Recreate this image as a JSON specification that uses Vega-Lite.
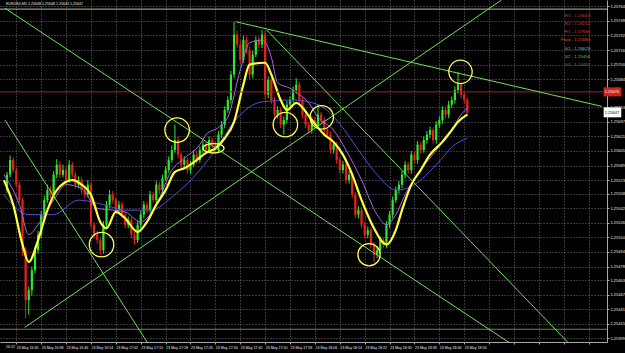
{
"$schema":"https://vega.github.io/schema/vega-lite/v6.json",
"width":607,"height":342,"autosize":"none","padding":{"left":0,"top":0,"right":18,"bottom":11},
"background":"#000000",
"config":{"view":{"stroke":null},"text":{"font":"Liberation Sans"},"axis":{"labelFont":"Liberation Sans"}},
"resolve":{"scale":{"color":"independent","size":"independent","shape":"independent"}},
"datasets":{
"candles":[
{"t":"2012-05-23 16:27","o":1.25562,"h":1.25582,"l":1.25559,"c":1.25579},
{"t":"2012-05-23 16:28","o":1.25579,"h":1.25600,"l":1.25576,"c":1.25595},
{"t":"2012-05-23 16:29","o":1.25595,"h":1.25598,"l":1.25581,"c":1.25584},
{"t":"2012-05-23 16:30","o":1.25584,"h":1.25587,"l":1.25565,"c":1.25568},
{"t":"2012-05-23 16:31","o":1.25568,"h":1.25571,"l":1.25548,"c":1.25551},
{"t":"2012-05-23 16:32","o":1.25551,"h":1.25554,"l":1.25490,"c":1.25496},
{"t":"2012-05-23 16:33","o":1.25496,"h":1.25499,"l":1.25421,"c":1.25441},
{"t":"2012-05-23 16:34","o":1.25441,"h":1.25456,"l":1.25425,"c":1.25452},
{"t":"2012-05-23 16:35","o":1.25452,"h":1.25478,"l":1.25446,"c":1.25474},
{"t":"2012-05-23 16:36","o":1.25474,"h":1.25500,"l":1.25470,"c":1.25496},
{"t":"2012-05-23 16:37","o":1.25496,"h":1.25517,"l":1.25492,"c":1.25513},
{"t":"2012-05-23 16:38","o":1.25513,"h":1.25539,"l":1.25509,"c":1.25535},
{"t":"2012-05-23 16:39","o":1.25535,"h":1.25556,"l":1.25530,"c":1.25551},
{"t":"2012-05-23 16:40","o":1.25551,"h":1.25568,"l":1.25548,"c":1.25562},
{"t":"2012-05-23 16:41","o":1.25562,"h":1.25566,"l":1.25553,"c":1.25557},
{"t":"2012-05-23 16:42","o":1.25557,"h":1.25583,"l":1.25554,"c":1.25579},
{"t":"2012-05-23 16:43","o":1.25579,"h":1.25596,"l":1.25575,"c":1.25590},
{"t":"2012-05-23 16:44","o":1.25590,"h":1.25594,"l":1.25575,"c":1.25579},
{"t":"2012-05-23 16:45","o":1.25579,"h":1.25590,"l":1.25576,"c":1.25584},
{"t":"2012-05-23 16:46","o":1.25584,"h":1.25588,"l":1.25569,"c":1.25573},
{"t":"2012-05-23 16:47","o":1.25573,"h":1.25595,"l":1.25570,"c":1.25590},
{"t":"2012-05-23 16:48","o":1.25590,"h":1.25593,"l":1.25576,"c":1.25579},
{"t":"2012-05-23 16:49","o":1.25579,"h":1.25582,"l":1.25564,"c":1.25568},
{"t":"2012-05-23 16:50","o":1.25568,"h":1.25577,"l":1.25564,"c":1.25573},
{"t":"2012-05-23 16:51","o":1.25573,"h":1.25576,"l":1.25558,"c":1.25562},
{"t":"2012-05-23 16:52","o":1.25562,"h":1.25566,"l":1.25553,"c":1.25557},
{"t":"2012-05-23 16:53","o":1.25557,"h":1.25573,"l":1.25554,"c":1.25568},
{"t":"2012-05-23 16:54","o":1.25568,"h":1.25571,"l":1.25520,"c":1.25524},
{"t":"2012-05-23 16:55","o":1.25524,"h":1.25527,"l":1.25509,"c":1.25513},
{"t":"2012-05-23 16:56","o":1.25513,"h":1.25517,"l":1.25503,"c":1.25507},
{"t":"2012-05-23 16:57","o":1.25507,"h":1.25510,"l":1.25491,"c":1.25496},
{"t":"2012-05-23 16:58","o":1.25496,"h":1.25528,"l":1.25492,"c":1.25524},
{"t":"2012-05-23 16:59","o":1.25524,"h":1.25550,"l":1.25520,"c":1.25546},
{"t":"2012-05-23 17:00","o":1.25546,"h":1.25562,"l":1.25542,"c":1.25557},
{"t":"2012-05-23 17:01","o":1.25557,"h":1.25561,"l":1.25547,"c":1.25551},
{"t":"2012-05-23 17:02","o":1.25551,"h":1.25554,"l":1.25536,"c":1.25540},
{"t":"2012-05-23 17:03","o":1.25540,"h":1.25550,"l":1.25536,"c":1.25546},
{"t":"2012-05-23 17:04","o":1.25546,"h":1.25549,"l":1.25531,"c":1.25535},
{"t":"2012-05-23 17:05","o":1.25535,"h":1.25538,"l":1.25520,"c":1.25524},
{"t":"2012-05-23 17:06","o":1.25524,"h":1.25533,"l":1.25520,"c":1.25529},
{"t":"2012-05-23 17:07","o":1.25529,"h":1.25532,"l":1.25509,"c":1.25513},
{"t":"2012-05-23 17:08","o":1.25513,"h":1.25516,"l":1.25502,"c":1.25507},
{"t":"2012-05-23 17:09","o":1.25507,"h":1.25528,"l":1.25504,"c":1.25524},
{"t":"2012-05-23 17:10","o":1.25524,"h":1.25539,"l":1.25520,"c":1.25535},
{"t":"2012-05-23 17:11","o":1.25535,"h":1.25550,"l":1.25531,"c":1.25546},
{"t":"2012-05-23 17:12","o":1.25546,"h":1.25549,"l":1.25536,"c":1.25540},
{"t":"2012-05-23 17:13","o":1.25540,"h":1.25561,"l":1.25537,"c":1.25557},
{"t":"2012-05-23 17:14","o":1.25557,"h":1.25560,"l":1.25548,"c":1.25551},
{"t":"2012-05-23 17:15","o":1.25551,"h":1.25572,"l":1.25548,"c":1.25568},
{"t":"2012-05-23 17:16","o":1.25568,"h":1.25571,"l":1.25558,"c":1.25562},
{"t":"2012-05-23 17:17","o":1.25562,"h":1.25579,"l":1.25559,"c":1.25575},
{"t":"2012-05-23 17:18","o":1.25575,"h":1.25588,"l":1.25572,"c":1.25584},
{"t":"2012-05-23 17:19","o":1.25584,"h":1.25599,"l":1.25581,"c":1.25595},
{"t":"2012-05-23 17:20","o":1.25595,"h":1.25611,"l":1.25592,"c":1.25606},
{"t":"2012-05-23 17:21","o":1.25606,"h":1.25634,"l":1.25603,"c":1.25617},
{"t":"2012-05-23 17:22","o":1.25617,"h":1.25621,"l":1.25597,"c":1.25601},
{"t":"2012-05-23 17:23","o":1.25601,"h":1.25604,"l":1.25586,"c":1.25590},
{"t":"2012-05-23 17:24","o":1.25590,"h":1.25599,"l":1.25586,"c":1.25595},
{"t":"2012-05-23 17:25","o":1.25595,"h":1.25598,"l":1.25580,"c":1.25584},
{"t":"2012-05-23 17:26","o":1.25584,"h":1.25594,"l":1.25580,"c":1.25590},
{"t":"2012-05-23 17:27","o":1.25590,"h":1.25606,"l":1.25587,"c":1.25601},
{"t":"2012-05-23 17:28","o":1.25601,"h":1.25605,"l":1.25591,"c":1.25595},
{"t":"2012-05-23 17:29","o":1.25595,"h":1.25610,"l":1.25592,"c":1.25606},
{"t":"2012-05-23 17:30","o":1.25606,"h":1.25616,"l":1.25602,"c":1.25612},
{"t":"2012-05-23 17:31","o":1.25612,"h":1.25615,"l":1.25602,"c":1.25606},
{"t":"2012-05-23 17:32","o":1.25606,"h":1.25621,"l":1.25603,"c":1.25617},
{"t":"2012-05-23 17:33","o":1.25617,"h":1.25620,"l":1.25608,"c":1.25612},
{"t":"2012-05-23 17:34","o":1.25612,"h":1.25615,"l":1.25602,"c":1.25606},
{"t":"2012-05-23 17:35","o":1.25606,"h":1.25627,"l":1.25603,"c":1.25623},
{"t":"2012-05-23 17:36","o":1.25623,"h":1.25638,"l":1.25619,"c":1.25634},
{"t":"2012-05-23 17:37","o":1.25634,"h":1.25654,"l":1.25630,"c":1.25650},
{"t":"2012-05-23 17:38","o":1.25650,"h":1.25665,"l":1.25647,"c":1.25661},
{"t":"2012-05-23 17:39","o":1.25661,"h":1.25693,"l":1.25657,"c":1.25689},
{"t":"2012-05-23 17:40","o":1.25689,"h":1.25747,"l":1.25685,"c":1.25733},
{"t":"2012-05-23 17:41","o":1.25733,"h":1.25737,"l":1.25718,"c":1.25722},
{"t":"2012-05-23 17:42","o":1.25722,"h":1.25726,"l":1.25701,"c":1.25705},
{"t":"2012-05-23 17:43","o":1.25705,"h":1.25732,"l":1.25702,"c":1.25727},
{"t":"2012-05-23 17:44","o":1.25727,"h":1.25731,"l":1.25712,"c":1.25716},
{"t":"2012-05-23 17:45","o":1.25716,"h":1.25720,"l":1.25684,"c":1.25689},
{"t":"2012-05-23 17:46","o":1.25689,"h":1.25715,"l":1.25685,"c":1.25711},
{"t":"2012-05-23 17:47","o":1.25711,"h":1.25731,"l":1.25708,"c":1.25727},
{"t":"2012-05-23 17:48","o":1.25727,"h":1.25731,"l":1.25718,"c":1.25722},
{"t":"2012-05-23 17:49","o":1.25722,"h":1.25738,"l":1.25718,"c":1.25733},
{"t":"2012-05-23 17:50","o":1.25733,"h":1.25737,"l":1.25662,"c":1.25667},
{"t":"2012-05-23 17:51","o":1.25667,"h":1.25687,"l":1.25663,"c":1.25683},
{"t":"2012-05-23 17:52","o":1.25683,"h":1.25686,"l":1.25657,"c":1.25661},
{"t":"2012-05-23 17:53","o":1.25661,"h":1.25664,"l":1.25641,"c":1.25645},
{"t":"2012-05-23 17:54","o":1.25645,"h":1.25654,"l":1.25641,"c":1.25650},
{"t":"2012-05-23 17:55","o":1.25650,"h":1.25653,"l":1.25630,"c":1.25634},
{"t":"2012-05-23 17:56","o":1.25634,"h":1.25643,"l":1.25623,"c":1.25639},
{"t":"2012-05-23 17:57","o":1.25639,"h":1.25660,"l":1.25635,"c":1.25656},
{"t":"2012-05-23 17:58","o":1.25656,"h":1.25665,"l":1.25652,"c":1.25661},
{"t":"2012-05-23 17:59","o":1.25661,"h":1.25676,"l":1.25658,"c":1.25672},
{"t":"2012-05-23 18:00","o":1.25672,"h":1.25685,"l":1.25668,"c":1.25678},
{"t":"2012-05-23 18:01","o":1.25678,"h":1.25681,"l":1.25657,"c":1.25661},
{"t":"2012-05-23 18:02","o":1.25661,"h":1.25664,"l":1.25641,"c":1.25645},
{"t":"2012-05-23 18:03","o":1.25645,"h":1.25648,"l":1.25630,"c":1.25634},
{"t":"2012-05-23 18:04","o":1.25634,"h":1.25637,"l":1.25624,"c":1.25628},
{"t":"2012-05-23 18:05","o":1.25628,"h":1.25643,"l":1.25624,"c":1.25639},
{"t":"2012-05-23 18:06","o":1.25639,"h":1.25643,"l":1.25630,"c":1.25634},
{"t":"2012-05-23 18:07","o":1.25634,"h":1.25656,"l":1.25630,"c":1.25645},
{"t":"2012-05-23 18:08","o":1.25645,"h":1.25648,"l":1.25635,"c":1.25639},
{"t":"2012-05-23 18:09","o":1.25639,"h":1.25642,"l":1.25624,"c":1.25628},
{"t":"2012-05-23 18:10","o":1.25628,"h":1.25631,"l":1.25619,"c":1.25623},
{"t":"2012-05-23 18:11","o":1.25623,"h":1.25626,"l":1.25602,"c":1.25606},
{"t":"2012-05-23 18:12","o":1.25606,"h":1.25616,"l":1.25602,"c":1.25612},
{"t":"2012-05-23 18:13","o":1.25612,"h":1.25615,"l":1.25591,"c":1.25595},
{"t":"2012-05-23 18:14","o":1.25595,"h":1.25598,"l":1.25580,"c":1.25584},
{"t":"2012-05-23 18:15","o":1.25584,"h":1.25594,"l":1.25580,"c":1.25590},
{"t":"2012-05-23 18:16","o":1.25590,"h":1.25593,"l":1.25569,"c":1.25573},
{"t":"2012-05-23 18:17","o":1.25573,"h":1.25583,"l":1.25569,"c":1.25579},
{"t":"2012-05-23 18:18","o":1.25579,"h":1.25582,"l":1.25553,"c":1.25557},
{"t":"2012-05-23 18:19","o":1.25557,"h":1.25560,"l":1.25531,"c":1.25535},
{"t":"2012-05-23 18:20","o":1.25535,"h":1.25544,"l":1.25531,"c":1.25540},
{"t":"2012-05-23 18:21","o":1.25540,"h":1.25543,"l":1.25520,"c":1.25524},
{"t":"2012-05-23 18:22","o":1.25524,"h":1.25527,"l":1.25509,"c":1.25513},
{"t":"2012-05-23 18:23","o":1.25513,"h":1.25522,"l":1.25509,"c":1.25518},
{"t":"2012-05-23 18:24","o":1.25518,"h":1.25521,"l":1.25498,"c":1.25502},
{"t":"2012-05-23 18:25","o":1.25502,"h":1.25505,"l":1.25483,"c":1.25491},
{"t":"2012-05-23 18:26","o":1.25491,"h":1.25500,"l":1.25487,"c":1.25496},
{"t":"2012-05-23 18:27","o":1.25496,"h":1.25511,"l":1.25492,"c":1.25507},
{"t":"2012-05-23 18:28","o":1.25507,"h":1.25510,"l":1.25498,"c":1.25502},
{"t":"2012-05-23 18:29","o":1.25502,"h":1.25528,"l":1.25498,"c":1.25524},
{"t":"2012-05-23 18:30","o":1.25524,"h":1.25539,"l":1.25520,"c":1.25535},
{"t":"2012-05-23 18:31","o":1.25535,"h":1.25555,"l":1.25531,"c":1.25551},
{"t":"2012-05-23 18:32","o":1.25551,"h":1.25566,"l":1.25548,"c":1.25562},
{"t":"2012-05-23 18:33","o":1.25562,"h":1.25572,"l":1.25558,"c":1.25568},
{"t":"2012-05-23 18:34","o":1.25568,"h":1.25583,"l":1.25564,"c":1.25579},
{"t":"2012-05-23 18:35","o":1.25579,"h":1.25594,"l":1.25575,"c":1.25590},
{"t":"2012-05-23 18:36","o":1.25590,"h":1.25593,"l":1.25580,"c":1.25584},
{"t":"2012-05-23 18:37","o":1.25584,"h":1.25605,"l":1.25580,"c":1.25601},
{"t":"2012-05-23 18:38","o":1.25601,"h":1.25604,"l":1.25591,"c":1.25595},
{"t":"2012-05-23 18:39","o":1.25595,"h":1.25616,"l":1.25591,"c":1.25612},
{"t":"2012-05-23 18:40","o":1.25612,"h":1.25615,"l":1.25602,"c":1.25606},
{"t":"2012-05-23 18:41","o":1.25606,"h":1.25621,"l":1.25603,"c":1.25617},
{"t":"2012-05-23 18:42","o":1.25617,"h":1.25627,"l":1.25613,"c":1.25623},
{"t":"2012-05-23 18:43","o":1.25623,"h":1.25632,"l":1.25619,"c":1.25628},
{"t":"2012-05-23 18:44","o":1.25628,"h":1.25631,"l":1.25613,"c":1.25617},
{"t":"2012-05-23 18:45","o":1.25617,"h":1.25638,"l":1.25613,"c":1.25634},
{"t":"2012-05-23 18:46","o":1.25634,"h":1.25643,"l":1.25630,"c":1.25639},
{"t":"2012-05-23 18:47","o":1.25639,"h":1.25654,"l":1.25635,"c":1.25650},
{"t":"2012-05-23 18:48","o":1.25650,"h":1.25653,"l":1.25641,"c":1.25645},
{"t":"2012-05-23 18:49","o":1.25645,"h":1.25660,"l":1.25641,"c":1.25656},
{"t":"2012-05-23 18:50","o":1.25656,"h":1.25665,"l":1.25652,"c":1.25661},
{"t":"2012-05-23 18:51","o":1.25661,"h":1.25676,"l":1.25657,"c":1.25672},
{"t":"2012-05-23 18:52","o":1.25672,"h":1.25692,"l":1.25668,"c":1.25678},
{"t":"2012-05-23 18:53","o":1.25678,"h":1.25681,"l":1.25663,"c":1.25667},
{"t":"2012-05-23 18:54","o":1.25667,"h":1.25670,"l":1.25657,"c":1.25661},
{"t":"2012-05-23 18:55","o":1.25661,"h":1.25664,"l":1.25644,"c":1.25647}
],
"ma":[
{"s":"yellow","t":"2012-05-23 16:26","p":1.25573},{"s":"yellow","t":"2012-05-23 16:29","p":1.25546},{"s":"yellow","t":"2012-05-23 16:32","p":1.25502},{"s":"yellow","t":"2012-05-23 16:34","p":1.25483},{"s":"yellow","t":"2012-05-23 16:37","p":1.25507},{"s":"yellow","t":"2012-05-23 16:40","p":1.25540},{"s":"yellow","t":"2012-05-23 16:43","p":1.25562},{"s":"yellow","t":"2012-05-23 16:48","p":1.25573},{"s":"yellow","t":"2012-05-23 16:51","p":1.25568},{"s":"yellow","t":"2012-05-23 16:54","p":1.25557},{"s":"yellow","t":"2012-05-23 16:57","p":1.25527},{"s":"yellow","t":"2012-05-23 16:59","p":1.25520},{"s":"yellow","t":"2012-05-23 17:02","p":1.25538},{"s":"yellow","t":"2012-05-23 17:05","p":1.25531},{"s":"yellow","t":"2012-05-23 17:09","p":1.25516},{"s":"yellow","t":"2012-05-23 17:12","p":1.25527},{"s":"yellow","t":"2012-05-23 17:15","p":1.25546},{"s":"yellow","t":"2012-05-23 17:18","p":1.25562},{"s":"yellow","t":"2012-05-23 17:21","p":1.25582},{"s":"yellow","t":"2012-05-23 17:24","p":1.25586},{"s":"yellow","t":"2012-05-23 17:28","p":1.25595},{"s":"yellow","t":"2012-05-23 17:31","p":1.25603},{"s":"yellow","t":"2012-05-23 17:34","p":1.25608},{"s":"yellow","t":"2012-05-23 17:37","p":1.25619},{"s":"yellow","t":"2012-05-23 17:40","p":1.25637},{"s":"yellow","t":"2012-05-23 17:43","p":1.25678},{"s":"yellow","t":"2012-05-23 17:45","p":1.25700},{"s":"yellow","t":"2012-05-23 17:50","p":1.25702},{"s":"yellow","t":"2012-05-23 17:52","p":1.25689},{"s":"yellow","t":"2012-05-23 17:55","p":1.25661},{"s":"yellow","t":"2012-05-23 17:57","p":1.25650},{"s":"yellow","t":"2012-05-23 18:00","p":1.25658},{"s":"yellow","t":"2012-05-23 18:05","p":1.25639},{"s":"yellow","t":"2012-05-23 18:09","p":1.25623},{"s":"yellow","t":"2012-05-23 18:12","p":1.25615},{"s":"yellow","t":"2012-05-23 18:15","p":1.25601},{"s":"yellow","t":"2012-05-23 18:18","p":1.25579},{"s":"yellow","t":"2012-05-23 18:21","p":1.25551},{"s":"yellow","t":"2012-05-23 18:25","p":1.25520},{"s":"yellow","t":"2012-05-23 18:28","p":1.25504},{"s":"yellow","t":"2012-05-23 18:29","p":1.25502},{"s":"yellow","t":"2012-05-23 18:32","p":1.25518},{"s":"yellow","t":"2012-05-23 18:34","p":1.25540},{"s":"yellow","t":"2012-05-23 18:37","p":1.25568},{"s":"yellow","t":"2012-05-23 18:40","p":1.25584},{"s":"yellow","t":"2012-05-23 18:43","p":1.25601},{"s":"yellow","t":"2012-05-23 18:47","p":1.25615},{"s":"yellow","t":"2012-05-23 18:50","p":1.25628},{"s":"yellow","t":"2012-05-23 18:52","p":1.25637},{"s":"yellow","t":"2012-05-23 18:55","p":1.25645},
{"s":"violet","t":"2012-05-23 16:26","p":1.25579},{"s":"violet","t":"2012-05-23 16:31","p":1.25546},{"s":"violet","t":"2012-05-23 16:34","p":1.25513},{"s":"violet","t":"2012-05-23 16:37","p":1.25524},{"s":"violet","t":"2012-05-23 16:42","p":1.25551},{"s":"violet","t":"2012-05-23 16:46","p":1.25568},{"s":"violet","t":"2012-05-23 16:51","p":1.25564},{"s":"violet","t":"2012-05-23 16:56","p":1.25542},{"s":"violet","t":"2012-05-23 17:01","p":1.25540},{"s":"violet","t":"2012-05-23 17:05","p":1.25538},{"s":"violet","t":"2012-05-23 17:10","p":1.25527},{"s":"violet","t":"2012-05-23 17:15","p":1.25546},{"s":"violet","t":"2012-05-23 17:20","p":1.25584},{"s":"violet","t":"2012-05-23 17:24","p":1.25597},{"s":"violet","t":"2012-05-23 17:29","p":1.25612},{"s":"violet","t":"2012-05-23 17:31","p":1.25623},{"s":"violet","t":"2012-05-23 17:35","p":1.25631},{"s":"violet","t":"2012-05-23 17:38","p":1.25642},{"s":"violet","t":"2012-05-23 17:42","p":1.25694},{"s":"violet","t":"2012-05-23 17:45","p":1.25724},{"s":"violet","t":"2012-05-23 17:49","p":1.25727},{"s":"violet","t":"2012-05-23 17:50","p":1.25725},{"s":"violet","t":"2012-05-23 17:52","p":1.25708},{"s":"violet","t":"2012-05-23 17:54","p":1.25680},{"s":"violet","t":"2012-05-23 17:58","p":1.25674},{"s":"violet","t":"2012-05-23 18:01","p":1.25667},{"s":"violet","t":"2012-05-23 18:04","p":1.25658},{"s":"violet","t":"2012-05-23 18:07","p":1.25642},{"s":"violet","t":"2012-05-23 18:12","p":1.25628},{"s":"violet","t":"2012-05-23 18:16","p":1.25606},{"s":"violet","t":"2012-05-23 18:21","p":1.25573},{"s":"violet","t":"2012-05-23 18:26","p":1.25535},{"s":"violet","t":"2012-05-23 18:29","p":1.25524},{"s":"violet","t":"2012-05-23 18:32","p":1.25535},{"s":"violet","t":"2012-05-23 18:35","p":1.25557},{"s":"violet","t":"2012-05-23 18:40","p":1.25584},{"s":"violet","t":"2012-05-23 18:45","p":1.25606},{"s":"violet","t":"2012-05-23 18:50","p":1.25628},{"s":"violet","t":"2012-05-23 18:53","p":1.25645},{"s":"violet","t":"2012-05-23 18:55","p":1.25652},
{"s":"blue","t":"2012-05-23 16:26","p":1.25557},{"s":"blue","t":"2012-05-23 16:34","p":1.25535},{"s":"blue","t":"2012-05-23 16:42","p":1.25535},{"s":"blue","t":"2012-05-23 16:50","p":1.25551},{"s":"blue","t":"2012-05-23 16:58","p":1.25546},{"s":"blue","t":"2012-05-23 17:05","p":1.25540},{"s":"blue","t":"2012-05-23 17:13","p":1.25540},{"s":"blue","t":"2012-05-23 17:21","p":1.25557},{"s":"blue","t":"2012-05-23 17:29","p":1.25584},{"s":"blue","t":"2012-05-23 17:34","p":1.25606},{"s":"blue","t":"2012-05-23 17:40","p":1.25637},{"s":"blue","t":"2012-05-23 17:49","p":1.25659},{"s":"blue","t":"2012-05-23 17:59","p":1.25661},{"s":"blue","t":"2012-05-23 18:07","p":1.25656},{"s":"blue","t":"2012-05-23 18:13","p":1.25639},{"s":"blue","t":"2012-05-23 18:20","p":1.25606},{"s":"blue","t":"2012-05-23 18:26","p":1.25579},{"s":"blue","t":"2012-05-23 18:32","p":1.25562},{"s":"blue","t":"2012-05-23 18:38","p":1.25568},{"s":"blue","t":"2012-05-23 18:45","p":1.25590},{"s":"blue","t":"2012-05-23 18:51","p":1.25612},{"s":"blue","t":"2012-05-23 18:55","p":1.25619}
],
"trend":[
{"t":"2012-05-23 16:26:22","p":1.25762,"t2":"2012-05-23 19:08:36","p2":1.25394},
{"t":"2012-05-23 17:50:30","p":1.25738,"t2":"2012-05-23 19:27:30","p2":1.25394},
{"t":"2012-05-23 17:40:40","p":1.25747,"t2":"2012-05-23 19:38:18","p2":1.25654},
{"t":"2012-05-23 16:32:42","p":1.25411,"t2":"2012-05-23 19:06:00","p2":1.25771},
{"t":"2012-05-23 16:26:22","p":1.25639,"t2":"2012-05-23 17:12:13","p2":1.25394}
],
"rings":[
{"t":"2012-05-23 16:57:24","p":1.25502,"kind":"small"},
{"t":"2012-05-23 17:21:42","p":1.25628,"kind":"small"},
{"t":"2012-05-23 17:33:24","p":1.25608,"kind":"flat"},
{"t":"2012-05-23 17:56:30","p":1.25634,"kind":"small"},
{"t":"2012-05-23 18:08:12","p":1.25642,"kind":"smaller"},
{"t":"2012-05-23 18:23:24","p":1.25491,"kind":"big"},
{"t":"2012-05-23 18:52:48","p":1.25692,"kind":"smaller"}
],
"levels":[
{"p":1.25761,"kind":"top"},{"p":1.25670,"kind":"price"},{"p":1.25409,"kind":"bottom"}
],
"pivots":[
{"t":"2012-05-23 19:34:30","p":1.25753,"level":"R3","label":"R3 - 1.28083"},
{"t":"2012-05-23 19:34:30","p":1.25745,"level":"R2","label":"R2 - 1.28210"},
{"t":"2012-05-23 19:34:30","p":1.25736,"level":"R1","label":"R1 - 1.27656"},
{"t":"2012-05-23 19:34:30","p":1.25727,"level":"Pivot","label":"Pivot - 1.27083"},
{"t":"2012-05-23 19:34:30","p":1.25717,"level":"S1","label":"S1 - 1.26629"},
{"t":"2012-05-23 19:34:30","p":1.25708,"level":"S2","label":"S2 - 1.25456"},
{"t":"2012-05-23 19:34:30","p":1.25700,"level":"S3","label":"S3 - 1.24482"}
],
"tags":[
{"t":"2012-05-23 19:38:50","t2":"2012-05-23 19:44:30","lo":1.25665,"hi":1.25675,"p":1.25670,"label":"1.25670","kind":"red"},
{"t":"2012-05-23 19:38:50","t2":"2012-05-23 19:44:30","lo":1.25642,"hi":1.25653,"p":1.25647,"label":"1.25647","kind":"white"}
],
"notes":[
{"t":"2012-05-23 16:26:40","p":1.25767,"label":"EURUSD,M1  1.25648 1.25648 1.25643 1.25647"},
{"t":"2012-05-23 16:26:40","p":1.25389,"label":"16:22"}
]
},
"layer":[
{"data":{"name":"candles"},"mark":{"type":"rule","strokeWidth":1},
 "encoding":{
  "x":{"field":"t","type":"temporal","title":null,
   "scale":{"domain":[{"year":2012,"month":5,"date":23,"hours":16,"minutes":26,"seconds":22},{"year":2012,"month":5,"date":23,"hours":19,"minutes":38,"seconds":18}],"nice":false},
   "axis":{"orient":"bottom","tickCount":100,"values":[
    {"year":2012,"month":5,"date":23,"hours":16,"minutes":30},{"year":2012,"month":5,"date":23,"hours":16,"minutes":38},{"year":2012,"month":5,"date":23,"hours":16,"minutes":46},{"year":2012,"month":5,"date":23,"hours":16,"minutes":54},
    {"year":2012,"month":5,"date":23,"hours":17,"minutes":2},{"year":2012,"month":5,"date":23,"hours":17,"minutes":10},{"year":2012,"month":5,"date":23,"hours":17,"minutes":18},{"year":2012,"month":5,"date":23,"hours":17,"minutes":26},{"year":2012,"month":5,"date":23,"hours":17,"minutes":34},{"year":2012,"month":5,"date":23,"hours":17,"minutes":42},{"year":2012,"month":5,"date":23,"hours":17,"minutes":50},{"year":2012,"month":5,"date":23,"hours":17,"minutes":58},
    {"year":2012,"month":5,"date":23,"hours":18,"minutes":6},{"year":2012,"month":5,"date":23,"hours":18,"minutes":14},{"year":2012,"month":5,"date":23,"hours":18,"minutes":22},{"year":2012,"month":5,"date":23,"hours":18,"minutes":30},{"year":2012,"month":5,"date":23,"hours":18,"minutes":38},{"year":2012,"month":5,"date":23,"hours":18,"minutes":46},{"year":2012,"month":5,"date":23,"hours":18,"minutes":54},
    {"year":2012,"month":5,"date":23,"hours":19,"minutes":2},{"year":2012,"month":5,"date":23,"hours":19,"minutes":10},{"year":2012,"month":5,"date":23,"hours":19,"minutes":18},{"year":2012,"month":5,"date":23,"hours":19,"minutes":26},{"year":2012,"month":5,"date":23,"hours":19,"minutes":34}],
    "labelExpr":"(hours(datum.value)*60+minutes(datum.value)) > 1134 ? '' : timeFormat(datum.value, '%d %b %H:%M')",
    "labelAlign":"left","labelBaseline":"top","labelFontSize":3.6,"labelColor":"#e8e8e8","labelPadding":1,
    "labelOverlap":false,"labelFlush":false,"labelBound":false,
    "tickSize":2,"tickColor":"#a8a8a8","domainColor":"#a8a8a8",
    "grid":true,"gridColor":"#6c6c6c","gridDash":[1,2],"gridWidth":1}},
  "y":{"field":"l","type":"quantitative","title":null,
   "scale":{"domain":[1.25395,1.25771],"zero":false,"nice":false},
   "axis":{"orient":"right","tickCount":100,"values":[1.25399,1.25415,1.25431,1.25447,1.25463,1.25478,1.25494,1.2551,1.25526,1.25542,1.25558,1.25573,1.25589,1.25605,1.25621,1.25637,1.25653,1.25684,1.257,1.25716,1.25732,1.25748,1.25764],
    "format":".5f","labelFontSize":4,"labelColor":"#e8e8e8","labelPadding":1,"labelOverlap":false,"labelBound":false,
    "tickSize":2,"tickColor":"#a8a8a8","domainColor":"#a8a8a8",
    "grid":true,"gridColor":"#6c6c6c","gridDash":[1,2],"gridWidth":1}},
  "y2":{"field":"h"},
  "color":{"condition":{"test":"datum.c >= datum.o","value":"#2ee82e"},"value":"#e8221c"}
 }},
{"data":{"name":"candles"},"mark":{"type":"bar","width":2.2},
 "encoding":{
  "x":{"field":"t","type":"temporal","title":null},
  "y":{"field":"o","type":"quantitative","title":null},
  "y2":{"field":"c"},
  "color":{"condition":{"test":"datum.c >= datum.o","value":"#2ee82e"},"value":"#e8221c"}
 }},
{"data":{"name":"ma"},"transform":[{"filter":"datum.s === 'blue'"}],
 "mark":{"type":"line","interpolate":"monotone","strokeWidth":1,"color":"#5a4ee0"},
 "encoding":{
  "x":{"field":"t","type":"temporal","title":null},
  "y":{"field":"p","type":"quantitative","title":null}
 }},
{"data":{"name":"ma"},"transform":[{"filter":"datum.s === 'violet'"}],
 "mark":{"type":"line","interpolate":"monotone","strokeWidth":1,"color":"#a868e8"},
 "encoding":{
  "x":{"field":"t","type":"temporal","title":null},
  "y":{"field":"p","type":"quantitative","title":null}
 }},
{"data":{"name":"ma"},"transform":[{"filter":"datum.s === 'yellow'"}],
 "mark":{"type":"line","interpolate":"monotone","strokeWidth":2.2,"color":"#ffff3c"},
 "encoding":{
  "x":{"field":"t","type":"temporal","title":null},
  "y":{"field":"p","type":"quantitative","title":null}
 }},
{"data":{"name":"levels"},"mark":{"type":"rule","strokeWidth":1},
 "encoding":{
  "y":{"field":"p","type":"quantitative","title":null},
  "color":{"field":"kind","type":"nominal","legend":null,"scale":{"domain":["top","price","bottom"],"range":["#bdbd98","#9a2626","#7e7e4a"]}}
 }},
{"data":{"name":"trend"},"mark":{"type":"rule","strokeWidth":1,"color":"#6ee05a","clip":true},
 "encoding":{
  "x":{"field":"t","type":"temporal","title":null},
  "x2":{"field":"t2"},
  "y":{"field":"p","type":"quantitative","title":null},
  "y2":{"field":"p2"}
 }},
{"data":{"name":"rings"},"mark":{"type":"point","filled":false,"strokeWidth":1.3,"color":"#ffff50","opacity":1},
 "encoding":{
  "x":{"field":"t","type":"temporal","title":null},
  "y":{"field":"p","type":"quantitative","title":null},
  "size":{"field":"kind","type":"ordinal","legend":null,"scale":{"domain":["small","smaller","big","flat"],"range":[600,441,3136,900]}},
  "shape":{"field":"kind","type":"ordinal","legend":null,"scale":{"domain":["small","smaller","big","flat"],"range":["circle","circle","circle","M -1 0 A 1 0.45 0 1 0 1 0 A 1 0.45 0 1 0 -1 0 Z"]}}
 }},
{"data":{"name":"pivots"},"mark":{"type":"text","align":"right","baseline":"middle","fontSize":4.4},
 "encoding":{
  "x":{"field":"t","type":"temporal","title":null},
  "y":{"field":"p","type":"quantitative","title":null},
  "text":{"field":"label"},
  "color":{"field":"level","type":"nominal","legend":null,"scale":{"domain":["R3","R2","R1","Pivot","S1","S2","S3"],"range":["#c03232","#c83636","#d04040","#e8582c","#40d0d0","#40d040","#2e962e"]}}
 }},
{"data":{"name":"notes"},"mark":{"type":"text","align":"left","baseline":"middle","fontSize":3.6,"color":"#e8e8e8","clip":false},
 "encoding":{
  "x":{"field":"t","type":"temporal","title":null},
  "y":{"field":"p","type":"quantitative","title":null},
  "text":{"field":"label"}
 }},
{"data":{"name":"tags"},"mark":{"type":"rect","clip":false},
 "encoding":{
  "x":{"field":"t","type":"temporal","title":null},
  "x2":{"field":"t2"},
  "y":{"field":"lo","type":"quantitative","title":null},
  "y2":{"field":"hi"},
  "color":{"condition":{"test":"datum.kind === 'red'","value":"#d02020"},"value":"#ffffff"}
 }},
{"data":{"name":"tags"},"mark":{"type":"text","clip":false,"align":"left","baseline":"middle","fontSize":4,"dx":1},
 "encoding":{
  "x":{"field":"t","type":"temporal","title":null},
  "y":{"field":"p","type":"quantitative","title":null},
  "text":{"field":"label"},
  "color":{"condition":{"test":"datum.kind === 'red'","value":"#ffffff"},"value":"#000000"}
 }}
]
}
